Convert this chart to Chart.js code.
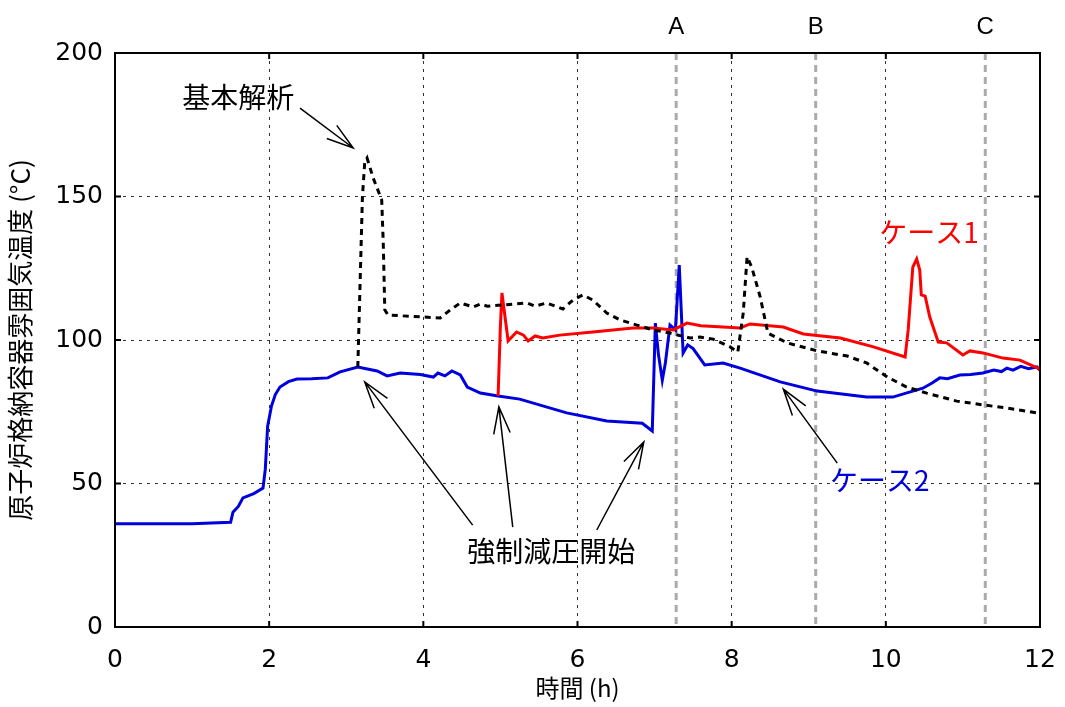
<!DOCTYPE html>
<html>
<head>
<meta charset="utf-8">
<script src="https://cdn.jsdelivr.net/npm/chart.js@4.4.0/dist/chart.umd.min.js"></script>
<style>
  html, body { margin: 0; padding: 0; background: #fff; }
</style>
</head>
<body>
<canvas id="chart" width="1065" height="707"></canvas>
<script>
// ---- data ----
const xTicks = [0, 2, 4, 6, 8, 10, 12];
const yTicks = [0, 50, 100, 150, 200];

// 基本解析 (black dashed)
const baseTime = [3.15, 3.21, 3.24, 3.27, 3.35, 3.46, 3.48, 3.50, 3.54, 4.0, 4.22, 4.35, 4.48, 4.65, 4.74, 4.83, 5.35, 5.45, 5.60, 5.81, 5.94, 6.07, 6.20, 6.38, 6.55, 6.77, 6.98, 7.20, 7.46, 7.59, 7.76, 7.98, 8.08, 8.15, 8.20, 8.26, 8.37, 8.47, 8.72, 9.11, 9.50, 9.75, 10.02, 10.27, 10.53, 10.92, 11.26, 11.57, 11.96, 12.0];
const baseTemp = [90.6, 150, 162, 163.4, 156.4, 148.8, 133.8, 110.5, 108.7, 108, 107.7, 110.5, 112.9, 111.5, 112.5, 111.8, 112.9, 111.8, 112.9, 110.8, 113.9, 115.7, 113.9, 109.4, 107, 105.2, 103.5, 102.4, 100.7, 101, 100.3, 97.6, 95.8, 109.4, 129, 125.4, 115, 102.4, 99, 96.2, 94.4, 92, 87.1, 83.6, 81.5, 78.7, 77.4, 76.3, 74.6, 74.5];

// ケース1 (red)
const case1Time = [4.97, 5.0, 5.02, 5.06, 5.10, 5.21, 5.30, 5.36, 5.45, 5.55, 5.77, 6.20, 6.72, 6.98, 7.24, 7.42, 7.6, 8.11, 8.24, 8.67, 8.93, 9.41, 9.84, 10.25, 10.29, 10.35, 10.40, 10.44, 10.46, 10.51, 10.57, 10.68, 10.79, 11.0, 11.09, 11.26, 11.52, 11.74, 11.97, 12.0];
const case1Temp = [80.5, 105, 116.4, 108, 99.7, 102.8, 101.7, 99.7, 101.4, 100.7, 101.7, 102.8, 104.2, 104.2, 103.5, 105.9, 105, 104.2, 105.6, 104.5, 102.1, 100.7, 97.6, 94.1, 103.5, 125.4, 128.2, 124.4, 115.7, 115.3, 108, 99.3, 99, 94.8, 96.2, 95.5, 93.7, 93, 90.2, 89.5];

// ケース2 (blue)
const case2Time = [0, 0.5, 1.0, 1.5, 1.53, 1.6, 1.66, 1.8, 1.92, 1.95, 1.98, 2.03, 2.08, 2.14, 2.25, 2.36, 2.55, 2.76, 2.92, 3.15, 3.4, 3.53, 3.7, 3.96, 4.13, 4.19, 4.28, 4.37, 4.48, 4.57, 4.74, 4.97, 5.25, 5.86, 6.38, 6.84, 6.97, 7.01, 7.05, 7.10, 7.14, 7.20, 7.27, 7.32, 7.37, 7.43, 7.50, 7.65, 7.89, 8.11, 8.63, 9.11, 9.75, 10.09, 10.48, 10.6, 10.7, 10.8, 10.96, 11.1, 11.26, 11.4, 11.5, 11.57, 11.65, 11.75, 11.85, 11.96, 12.0];
const case2Temp = [36, 36, 36, 36.5, 40, 42, 45, 46.5, 48.4, 55, 70, 77, 81, 83.6, 85.5, 86.4, 86.5, 86.8, 88.9, 90.6, 89.2, 87.5, 88.5, 88, 87.1, 88.5, 87.5, 89.2, 87.8, 83.6, 81.5, 80.5, 79.4, 74.6, 71.8, 71, 68.3, 105.9, 95, 86, 92, 105.2, 103.5, 126.1, 95.5, 98.3, 97, 91.3, 92, 90.2, 85.4, 82.2, 80.1, 80.1, 83.2, 85, 86.8, 86.5, 87.8, 88, 88.5, 89.5, 89, 90.2, 89.5, 90.8, 90, 90.6, 89.5];

// event markers A / B / C
const eventLabels = ['A', 'B', 'C'];
const eventTimes = [7.28, 9.09, 11.29];

// ---- annotations (data coordinates) ----
const texts = [
    { text: '基本解析', x: 1.60, y: 184.7, color: '#000' },
    { text: '強制減圧開始', x: 5.66, y: 26.5, color: '#000' },
    { text: 'ケース1', x: 10.56, y: 137.6, color: '#ff0000' },
    { text: 'ケース2', x: 9.92, y: 51.2, color: '#0000dd' }
];
const arrows = [
    { from: [2.40, 180.8], to: [3.09, 166.9] },
    { from: [4.64, 35.5], to: [3.24, 85.4] },
    { from: [5.16, 34.8], to: [4.98, 76.7] },
    { from: [6.25, 33.8], to: [6.86, 64.5] },
    { from: [9.37, 57.1], to: [8.67, 82.9] }
];

const FONT = '"DejaVu Sans", "Noto Sans CJK JP", sans-serif';
const JFONT = '"Noto Sans CJK JP", sans-serif';

function pts(xs, ys) {
    return xs.map((x, i) => ({ x: x, y: ys[i] }));
}

// frame, inward ticks, event lines and annotations
const decorations = {
    id: 'decorations',
    beforeDatasetsDraw(chart) {
        const { ctx, chartArea: a, scales: { x } } = chart;
        ctx.save();
        ctx.strokeStyle = '#aaaaaa';
        ctx.lineWidth = 3;
        ctx.setLineDash([7, 5]);
        ctx.fillStyle = '#000';
        ctx.font = '24px "Liberation Sans", sans-serif';
        ctx.textAlign = 'center';
        ctx.textBaseline = 'middle';
        eventTimes.forEach((t, i) => {
            const px = x.getPixelForValue(t);
            ctx.beginPath();
            ctx.moveTo(px, a.top);
            ctx.lineTo(px, a.bottom);
            ctx.stroke();
            ctx.fillText(eventLabels[i], px, 27);
        });
        ctx.restore();
    },
    afterDatasetsDraw(chart) {
        const { ctx, chartArea: a, scales: { x, y } } = chart;
        ctx.save();
        // frame
        ctx.strokeStyle = '#000';
        ctx.lineWidth = 2;
        ctx.setLineDash([]);
        ctx.strokeRect(a.left, a.top, a.right - a.left, a.bottom - a.top);
        // inward ticks
        const tl = 6;
        ctx.beginPath();
        xTicks.forEach(v => {
            const px = x.getPixelForValue(v);
            ctx.moveTo(px, a.bottom); ctx.lineTo(px, a.bottom - tl);
            ctx.moveTo(px, a.top); ctx.lineTo(px, a.top + tl);
        });
        yTicks.forEach(v => {
            const py = y.getPixelForValue(v);
            ctx.moveTo(a.left, py); ctx.lineTo(a.left + tl, py);
            ctx.moveTo(a.right, py); ctx.lineTo(a.right - tl, py);
        });
        ctx.stroke();

        // arrows
        ctx.lineWidth = 1.5;
        arrows.forEach(ar => {
            const x1 = x.getPixelForValue(ar.from[0]), y1 = y.getPixelForValue(ar.from[1]);
            const x2 = x.getPixelForValue(ar.to[0]), y2 = y.getPixelForValue(ar.to[1]);
            const ang = Math.atan2(y1 - y2, x1 - x2);
            const head = 28, spread = 0.3;
            ctx.beginPath();
            ctx.moveTo(x1, y1); ctx.lineTo(x2, y2);
            ctx.moveTo(x2 + head * Math.cos(ang - spread), y2 + head * Math.sin(ang - spread));
            ctx.lineTo(x2, y2);
            ctx.lineTo(x2 + head * Math.cos(ang + spread), y2 + head * Math.sin(ang + spread));
            ctx.stroke();
        });

        // labels
        ctx.font = '28px ' + JFONT;
        ctx.textAlign = 'center';
        ctx.textBaseline = 'middle';
        texts.forEach(t => {
            ctx.fillStyle = t.color;
            ctx.fillText(t.text, x.getPixelForValue(t.x), y.getPixelForValue(t.y));
        });
        ctx.restore();
    }
};

const gridOpts = {
    color: '#333',
    lineWidth: 1,
    drawTicks: false
};

new Chart(document.getElementById('chart'), {
    type: 'line',
    data: {
        datasets: [
            {
                label: '基本解析',
                data: pts(baseTime, baseTemp),
                borderColor: '#000',
                borderWidth: 3,
                borderDash: [6, 5],
                pointRadius: 0,
                tension: 0
            },
            {
                label: 'ケース1',
                data: pts(case1Time, case1Temp),
                borderColor: '#ff0000',
                borderWidth: 3,
                pointRadius: 0,
                tension: 0
            },
            {
                label: 'ケース2',
                data: pts(case2Time, case2Temp),
                borderColor: '#0000dd',
                borderWidth: 3,
                pointRadius: 0,
                tension: 0
            }
        ]
    },
    options: {
        responsive: false,
        animation: false,
        layout: { padding: { top: 53, right: 25, left: 0, bottom: 0 } },
        plugins: {
            legend: { display: false },
            tooltip: { enabled: false }
        },
        scales: {
            x: {
                type: 'linear',
                min: 0,
                max: 12,
                afterBuildTicks: s => { s.ticks = xTicks.map(v => ({ value: v })); },
                afterFit: s => { s.height = 80; s.paddingLeft = 0; s.paddingRight = 0; },
                grid: gridOpts,
                border: { display: false, dash: [3, 5] },
                ticks: { color: '#000', padding: 18, font: { family: FONT, size: 25 } },
                title: {
                    display: true,
                    text: '時間 (h)',
                    color: '#000',
                    padding: { top: 0, bottom: 5 },
                    font: { family: JFONT, size: 24 }
                }
            },
            y: {
                min: 0,
                max: 200,
                afterBuildTicks: s => { s.ticks = yTicks.map(v => ({ value: v })); },
                afterFit: s => { s.width = 115; s.paddingTop = 0; s.paddingBottom = 0; },
                grid: gridOpts,
                border: { display: false, dash: [3, 5] },
                ticks: { color: '#000', padding: 12, font: { family: FONT, size: 25 } },
                title: {
                    display: true,
                    text: '原子炉格納容器雰囲気温度 (°C)',
                    color: '#000',
                    padding: { top: 5, bottom: 0 },
                    font: { family: JFONT, size: 26 }
                }
            }
        }
    },
    plugins: [decorations]
});
</script>
</body>
</html>
